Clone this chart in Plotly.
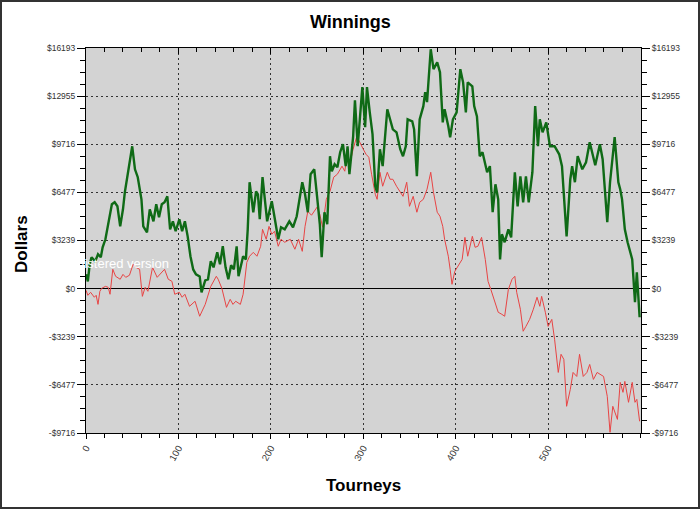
import plotly.graph_objects as go

# ---- data ----
green_t = [0, 2, 4, 6, 10, 13, 16, 18, 21, 24, 26, 28, 31, 34, 37, 40, 42, 45, 50, 53, 56, 60, 62, 66, 69, 73, 76, 79, 82, 85, 88, 91, 94, 97, 101, 104, 107, 110, 113, 116, 119, 123, 125, 129, 132, 135, 138, 142, 145, 148, 151, 154, 157, 160, 163, 165, 170, 173, 175, 177, 181, 184, 186, 188, 191, 196, 201, 204, 208, 211, 215, 220, 224, 228, 234, 237, 240, 243, 247, 250, 253, 255, 258, 261, 264, 266, 269, 272, 275, 278, 281, 283, 285, 289, 291, 294, 299, 302, 304, 307, 310, 313, 315, 318, 321, 326, 329, 332, 336, 340, 343, 346, 348, 353, 355, 358, 361, 365, 367, 369, 373, 376, 380, 383, 386, 388, 392, 394, 397, 401, 405, 408, 411, 413, 418, 420, 423, 426, 429, 434, 437, 440, 443, 446, 448, 450, 453, 457, 460, 464, 467, 470, 473, 476, 479, 483, 486, 489, 491, 494, 498, 502, 507, 512, 515, 520, 524, 526, 529, 532, 537, 541, 545, 549, 551, 556, 559, 564, 567, 572, 576, 578, 580, 583, 586, 591, 594, 596, 599]
green_v = [960, 490, 1640, 2110, 1840, 2310, 2110, 2780, 3320, 4330, 5140, 5680, 5810, 5540, 4190, 5340, 6480, 7700, 9580, 8030, 7500, 6010, 4190, 3790, 5340, 4530, 5680, 4800, 5680, 5810, 6210, 3990, 4530, 3860, 4670, 3860, 4530, 3520, 2180, 1290, 960, 820, -250, 560, 630, 1840, 1430, 2440, 1640, 2850, 1430, 630, 1570, 1300, 2850, 830, 2180, 1970, 4000, 7160, 5140, 6550, 6350, 4670, 7500, 4530, 5880, 4800, 3320, 4130, 3990, 4530, 4130, 4870, 7160, 6350, 5140, 7700, 8030, 6210, 4330, 2110, 5140, 4330, 8910, 7900, 8370, 8170, 9180, 9720, 8240, 9580, 7700, 10190, 12680, 9580, 13560, 10860, 13560, 11870, 10400, 6870, 6480, 9380, 8240, 12070, 11390, 10720, 10520, 9380, 8910, 9580, 11390, 11260, 10720, 7560, 11390, 12280, 13220, 12550, 16110, 14770, 15230, 14560, 11190, 12070, 10930, 10190, 11390, 11860, 14770, 13880, 11860, 13880, 13610, 12280, 11590, 8910, 9180, 7830, 8240, 5140, 7020, 6010, 1970, 3660, 3120, 3990, 3450, 7830, 5540, 7560, 5810, 7560, 5810, 7830, 12280, 9580, 11390, 10520, 11190, 9580, 9580, 9040, 8240, 3520, 7360, 8240, 7160, 8910, 8030, 8500, 9850, 8910, 8300, 9720, 8710, 4470, 7160, 10190, 7160, 6690, 6010, 3990, 3120, 1970, -920, 1100, -1930]

red_t = [0, 2, 5, 9, 11, 13, 15, 17, 21, 24, 26, 29, 32, 37, 40, 43, 47, 51, 54, 58, 61, 64, 67, 72, 77, 80, 85, 89, 93, 96, 101, 104, 107, 112, 118, 123, 129, 135, 141, 143, 147, 152, 156, 159, 162, 167, 170, 174, 177, 181, 185, 189, 191, 195, 198, 201, 204, 208, 211, 215, 221, 226, 230, 234, 237, 240, 244, 250, 253, 256, 260, 264, 268, 272, 277, 280, 282, 285, 289, 293, 296, 300, 303, 306, 309, 313, 315, 318, 321, 326, 329, 332, 336, 340, 343, 347, 350, 354, 358, 361, 365, 369, 373, 376, 380, 383, 386, 388, 392, 394, 396, 399, 402, 407, 410, 413, 418, 421, 424, 428, 432, 435, 438, 442, 446, 450, 453, 457, 461, 464, 466, 470, 473, 476, 480, 484, 488, 491, 493, 497, 500, 504, 507, 511, 514, 517, 520, 524, 527, 531, 534, 538, 542, 545, 549, 553, 556, 560, 564, 567, 570, 575, 578, 581, 583, 587, 591, 594, 596, 599]
red_v = [-110, -450, -250, -580, -450, -1060, -180, 20, 150, 90, -380, 1300, 830, 630, 960, 760, 900, 1640, 1430, 1300, -520, 90, -180, 1430, 760, 960, 1300, 630, 490, -380, -250, -580, -380, -1190, -850, -1860, -1060, 150, 830, 630, 20, -1260, -720, -1060, -850, -1060, -380, 1770, 2180, 2440, 2180, 2850, 3990, 3320, 4190, 3660, 3860, 2850, 3320, 3120, 3320, 2650, 3320, 2510, 4190, 5200, 4940, 5480, 5000, 4130, 6010, 6550, 7500, 7700, 8240, 7900, 8710, 8240, 9380, 10250, 9850, 9380, 9040, 8840, 7700, 6350, 6010, 7830, 6890, 7830, 7360, 7360, 6890, 6480, 6210, 7160, 5540, 6210, 5140, 5810, 6010, 6690, 7830, 6480, 5140, 4870, 4190, 3320, 2180, 1300, 290, 1160, 1430, 1970, 3450, 2180, 3520, 2780, 2850, 3450, 1970, 490, -50, -850, -1590, -1730, -1860, -50, 630, 830, -250, -1390, -2870, -2540, -2070, -1390, -580, -1190, -520, -1590, -2540, -2070, -3410, -5640, -4420, -4760, -7920, -6780, -5640, -5910, -4420, -5910, -5640, -5100, -6110, -5640, -5770, -5910, -7250, -9670, -7920, -8800, -6310, -6980, -6240, -7650, -6310, -7650, -7450, -8930]

y_tick_vals = [-9716, -6477, -3239, 0, 3239, 6477, 9716, 12955, 16193]
y_tick_text = ["-$9716", "-$6477", "-$3239", "$0", "$3239", "$6477", "$9716", "$12955", "$16193"]
x_tick_vals = [0, 100, 200, 300, 400, 500]
x_tick_text = ["0", "100", "200", "300", "400", "500"]

X_RANGE = [0, 600.5]
Y_RANGE = [-9716, 16193]

# minor ticks: quarter steps between major y ticks
y_minor = []
for a, b in zip(y_tick_vals[:-1], y_tick_vals[1:]):
    for k in (1, 2, 3):
        y_minor.append(a + (b - a) * k / 4)

FONT = "Liberation Sans, Arial, sans-serif"
GREEN = "#0f6a16"
RED = "#e84444"
TICKFONT = dict(size=8.5, color="#333333", family=FONT)
XTICKFONT = dict(size=9.5, color="#333333", family=FONT)

fig = go.Figure()
fig.add_trace(go.Scatter(x=red_t, y=red_v, mode="lines",
                         line=dict(color=RED, width=1), xaxis="x", yaxis="y",
                         showlegend=False, hoverinfo="skip"))
fig.add_trace(go.Scatter(x=green_t, y=green_v, mode="lines",
                         line=dict(color=GREEN, width=2.4), xaxis="x2", yaxis="y2",
                         showlegend=False, hoverinfo="skip"))

grid_common = dict(showgrid=True, gridcolor="#333333", griddash="2px,3px", gridwidth=1)

fig.update_layout(
    width=700, height=509,
    margin=dict(l=86, r=59, t=48, b=76),
    paper_bgcolor="white", plot_bgcolor="#d3d3d3",
    font=dict(family=FONT, size=10, color="#333333"),
    xaxis=dict(range=X_RANGE, tickmode="array", tickvals=x_tick_vals, ticktext=x_tick_text,
               tickangle=-60, ticks="outside", ticklen=5, tickcolor="black",
               showline=True, linecolor="black", linewidth=1, zeroline=False,
               minor=dict(dtick=20, tick0=0, ticks="outside", ticklen=4, tickcolor="black", showgrid=False),
               tickfont=XTICKFONT, **grid_common),
    xaxis2=dict(range=X_RANGE, overlaying="x", side="top", tickmode="array", tickvals=x_tick_vals,
                showticklabels=False, ticks="inside", ticklen=6, tickcolor="black",
                showline=True, linecolor="black", linewidth=1, showgrid=False, zeroline=False,
                minor=dict(dtick=20, tick0=0, ticks="inside", ticklen=4, tickcolor="black", showgrid=False)),
    yaxis=dict(range=Y_RANGE, tickmode="array", tickvals=y_tick_vals, ticktext=y_tick_text,
               ticks="outside", ticklen=8, tickcolor="black",
               showline=True, linecolor="black", linewidth=1,
               zeroline=True, zerolinecolor="black", zerolinewidth=1,
               minor=dict(tickmode="array", tickvals=y_minor, ticks="outside", ticklen=5,
                          tickcolor="black", showgrid=False),
               tickfont=TICKFONT, **grid_common),
    yaxis2=dict(range=Y_RANGE, overlaying="y", side="right", tickmode="array",
                tickvals=y_tick_vals, ticktext=y_tick_text,
                ticks="outside", ticklen=8, tickcolor="black",
                showline=True, linecolor="black", linewidth=1, showgrid=False, zeroline=False,
                minor=dict(tickmode="array", tickvals=y_minor, ticks="outside", ticklen=5,
                           tickcolor="black", showgrid=False),
                tickfont=TICKFONT),
)

PW, PH = 555.0, 385.0  # plot area size in px


def px2paper_x(px):
    return (px - 86) / PW


def px2paper_y(py):
    return (433 - py) / PH


annotations = [
    dict(text="<b>Winnings</b>", x=px2paper_x(350), y=px2paper_y(22), xref="paper", yref="paper",
         showarrow=False, font=dict(size=18, color="black", family=FONT), xanchor="center", yanchor="middle"),
    dict(text="<b>Tourneys</b>", x=px2paper_x(363), y=px2paper_y(485), xref="paper", yref="paper",
         showarrow=False, font=dict(size=17, color="black", family=FONT), xanchor="center", yanchor="middle"),
    dict(text="<b>Dollars</b>", x=px2paper_x(22), y=px2paper_y(244), xref="paper", yref="paper",
         showarrow=False, textangle=-90, font=dict(size=17, color="black", family=FONT),
         xanchor="center", yanchor="middle"),
    dict(text="Unregistered version", x=px2paper_x(171), y=px2paper_y(263), xref="paper", yref="paper",
         showarrow=False, font=dict(size=13, color="white", family=FONT), xanchor="right", yanchor="middle"),
]
fig.update_layout(annotations=annotations)

fig.add_shape(type="rect", xref="paper", yref="paper",
              x0=px2paper_x(1), x1=px2paper_x(699), y0=px2paper_y(508), y1=px2paper_y(1),
              line=dict(color="#333333", width=2), fillcolor="rgba(0,0,0,0)", layer="above")

fig.write_html("out.html", config={"displayModeBar": False},
               post_script="document.body.style.margin='0';document.body.style.padding='0';")
